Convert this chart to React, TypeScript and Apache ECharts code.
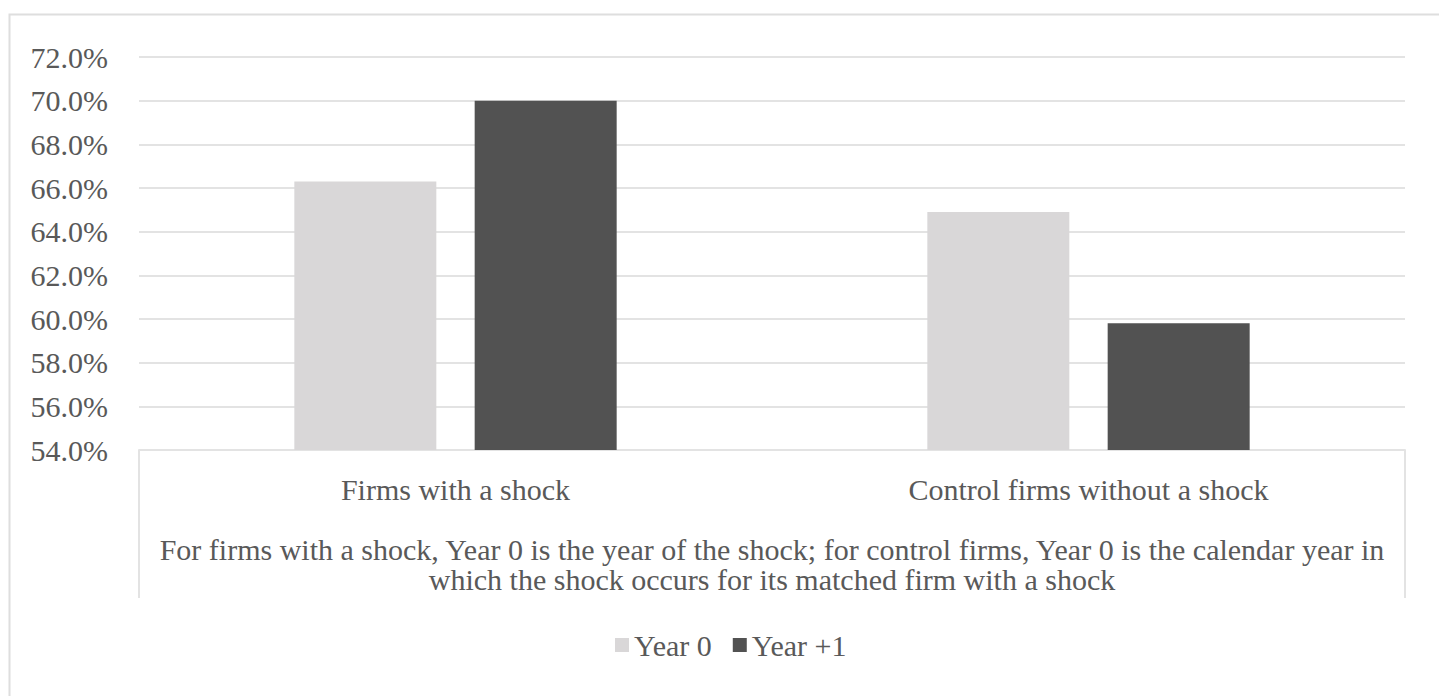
import React, { useEffect, useRef } from "react";
import * as echarts from "echarts";

const categories = ["Firms with a shock", "Control firms without a shock"];
const seriesNames = ["Year 0", "Year +1"];
const year0Values = [66.3, 64.9];
const year1Values = [70.0, 59.8];
const seriesColors = ["#d9d7d8", "#525252"];
const yMin = 54;
const yMax = 72;
const yStep = 2;
const footnote =
  "For firms with a shock, Year 0 is the year of the shock; for control firms, Year 0 is the calendar year in\nwhich the shock occurs for its matched firm with a shock";

const W = 1439;
const H = 696;
const GRID_LEFT = 139;
const GRID_RIGHT = 34;
const GRID_TOP = 57;
const GRID_BOTTOM = 246;
const FONT = "'Liberation Serif', 'Times New Roman', serif";
const FS = 30;
const TEXT_COLOR = "#595959";
const LINE_COLOR = "#e3e3e3";

export default function App() {
  const ref = useRef<HTMLDivElement>(null);
  useEffect(() => {
    if (!ref.current) return;
    const chart = echarts.init(ref.current, undefined, { renderer: "svg" });
    const axisY = H - GRID_BOTTOM;
    const xr = W - GRID_RIGHT;
    chart.setOption({
      animation: false,
      backgroundColor: "#ffffff",
      textStyle: { fontFamily: FONT, color: TEXT_COLOR },
      grid: { left: GRID_LEFT, right: GRID_RIGHT, top: GRID_TOP, bottom: GRID_BOTTOM, containLabel: false },
      legend: {
        data: seriesNames,
        left: 610,
        top: 625,
        icon: "rect",
        itemWidth: 14,
        itemHeight: 14,
        itemGap: 21,
        textStyle: { fontFamily: FONT, fontSize: FS, color: TEXT_COLOR, padding: 0 },
      },
      xAxis: {
        type: "category",
        data: categories,
        axisLine: { show: true, lineStyle: { color: LINE_COLOR, width: 2 } },
        axisTick: { show: false },
        axisLabel: { margin: 24, fontFamily: FONT, fontSize: FS, color: TEXT_COLOR },
        name: footnote,
        nameLocation: "middle",
        nameGap: 84,
        nameTextStyle: { fontFamily: FONT, fontSize: FS, color: TEXT_COLOR, lineHeight: 30, align: "center" },
      },
      yAxis: {
        type: "value",
        min: yMin,
        max: yMax,
        interval: yStep,
        axisLine: { show: false },
        axisTick: { show: false },
        splitLine: { lineStyle: { color: LINE_COLOR, width: 2 } },
        axisLabel: {
          margin: 31,
          fontFamily: FONT,
          fontSize: FS,
          color: TEXT_COLOR,
          formatter: (v: number) => v.toFixed(1) + "%",
        },
      },
      series: [
        {
          name: seriesNames[0],
          type: "bar",
          data: year0Values,
          barWidth: 142,
          barGap: "27%",
          itemStyle: { color: seriesColors[0] },
        },
        {
          name: seriesNames[1],
          type: "bar",
          data: year1Values,
          barWidth: 142,
          itemStyle: { color: seriesColors[1] },
        },
      ],
      graphic: [
        {
          type: "rect",
          silent: true,
          shape: { x: 9.5, y: 14.5, width: W + 20, height: H + 20 },
          style: { fill: "none", stroke: "#dedede", lineWidth: 2 },
          z: 0,
        },
        {
          type: "line",
          silent: true,
          shape: { x1: GRID_LEFT, y1: axisY, x2: GRID_LEFT, y2: 598 },
          style: { stroke: LINE_COLOR, lineWidth: 2 },
        },
        {
          type: "line",
          silent: true,
          shape: { x1: xr, y1: axisY, x2: xr, y2: 598 },
          style: { stroke: LINE_COLOR, lineWidth: 2 },
        },
      ],
    });
    return () => chart.dispose();
  }, []);
  return (
    <div
      ref={ref}
      style={{ position: "absolute", left: 0, top: 0, width: W, height: H }}
    />
  );
}
